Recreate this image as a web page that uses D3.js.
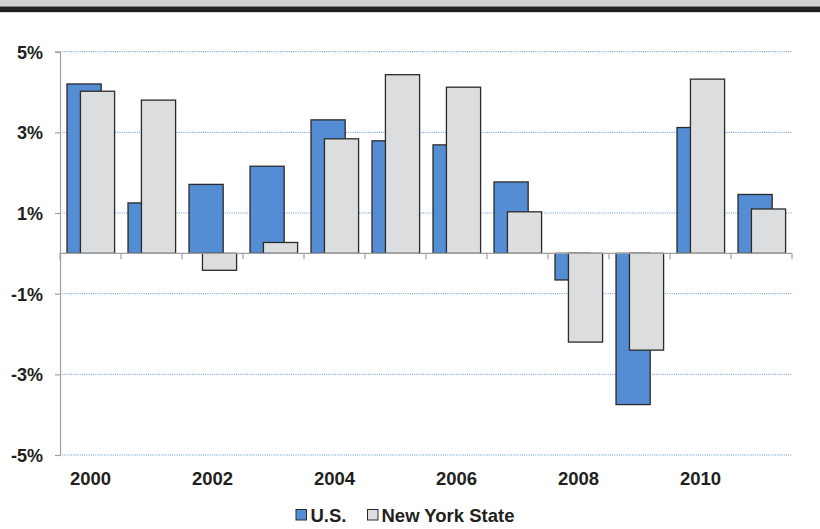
<!DOCTYPE html>
<html>
<head>
<meta charset="utf-8">
<script src="https://cdn.jsdelivr.net/npm/d3@7"></script>
<style>
  html, body { margin: 0; padding: 0; background: #fff; }
  svg { display: block; }
  text { font-family: "Liberation Sans", Arial, Helvetica, sans-serif; font-weight: bold; fill: #231f20; }
</style>
</head>
<body>
<svg id="chart" width="820" height="529"></svg>
<script>
// Annual growth, percent
const years = [2000, 2001, 2002, 2003, 2004, 2005, 2006, 2007, 2008, 2009, 2010, 2011];
const usValues = [4.2, 1.25, 1.71, 2.16, 3.31, 2.79, 2.69, 1.77, -0.66, -3.75, 3.12, 1.46];
const nyValues = [4.02, 3.8, -0.42, 0.27, 2.84, 4.43, 4.12, 1.03, -2.2, -2.4, 4.32, 1.1];
const yTicks = [5, 3, 1, -1, -3, -5];
const xLabelYears = [2000, 2002, 2004, 2006, 2008, 2010];
const seriesNames = ["U.S.", "New York State"];

const svg = d3.select("#chart");
const W = 820;

// header band
svg.append("rect").attr("x", 0).attr("y", 0).attr("width", W).attr("height", 6.5).attr("fill", "#d1d2d4");
svg.append("rect").attr("x", 0).attr("y", 6.5).attr("width", W).attr("height", 5.5).attr("fill", "#231f20");
svg.append("rect").attr("x", 0).attr("y", 12).attr("width", W).attr("height", 1).attr("fill", "#d6d6d6");

const plotLeft = 60, plotRight = 792, plotTop = 51.7, plotBottom = 455;

const x = d3.scaleBand().domain(years).range([plotLeft, plotRight]).paddingInner(0).paddingOuter(0);
const y = d3.scaleLinear().domain([-5, 5]).range([plotBottom, plotTop]);

// dotted gridlines
svg.append("g").selectAll("line").data(yTicks).join("line")
  .attr("x1", plotLeft).attr("x2", plotRight)
  .attr("y1", d => y(d)).attr("y2", d => y(d))
  .attr("stroke", "#4f86d0").attr("stroke-width", 1).attr("stroke-dasharray", "1,1.2")
  .attr("opacity", 0.85);

// y axis
const yAxis = d3.axisLeft(y).tickValues(yTicks).tickSize(5).tickFormat(d => d + "%");
const gy = svg.append("g").attr("transform", `translate(${plotLeft},0)`).call(yAxis);
gy.select(".domain").attr("stroke", "#a0a0a0").attr("stroke-width", 1.2);
gy.selectAll(".tick line").attr("stroke", "#a0a0a0").attr("stroke-width", 1.2);
gy.selectAll(".tick text")
  .attr("x", -17).attr("dy", "0.36em")
  .style("font-size", "18px").style("font-family", "\"Liberation Sans\", Arial, sans-serif")
  .style("font-weight", "bold").attr("fill", "#231f20");

// bars
const bw = x.bandwidth();
const barW = bw * 0.56;
const usOff = bw * 0.115, nyOff = bw * 0.335;

const bars = svg.append("g");
bars.selectAll("rect.us").data(years).join("rect")
  .attr("class", "us")
  .attr("x", (d) => x(d) + usOff)
  .attr("y", (d, i) => y(Math.max(0, usValues[i])))
  .attr("width", barW)
  .attr("height", (d, i) => Math.abs(y(usValues[i]) - y(0)))
  .attr("fill", "#548dd4").attr("stroke", "#2b2b2b").attr("stroke-width", 1.3);

bars.selectAll("rect.ny").data(years).join("rect")
  .attr("class", "ny")
  .attr("x", (d) => x(d) + nyOff)
  .attr("y", (d, i) => y(Math.max(0, nyValues[i])))
  .attr("width", barW)
  .attr("height", (d, i) => Math.abs(y(nyValues[i]) - y(0)))
  .attr("fill", "#dcdddf").attr("stroke", "#2b2b2b").attr("stroke-width", 1.3);

// x axis at zero with boundary ticks
const boundaries = years.map(d => x(d)).concat([plotRight]);
const gx = svg.append("g");
gx.append("line").attr("x1", plotLeft).attr("x2", plotRight).attr("y1", y(0)).attr("y2", y(0))
  .attr("stroke", "#a0a0a0").attr("stroke-width", 1.4);
gx.selectAll("line.tk").data(boundaries).join("line")
  .attr("class", "tk")
  .attr("x1", d => d).attr("x2", d => d)
  .attr("y1", y(0)).attr("y2", y(0) + 6)
  .attr("stroke", "#a0a0a0").attr("stroke-width", 1.2);

// year labels
svg.append("g").selectAll("text").data(xLabelYears).join("text")
  .attr("x", d => x(d) + bw / 2).attr("y", 485)
  .attr("text-anchor", "middle")
  .style("font-size", "18.5px")
  .text(d => d);

// legend
const legend = svg.append("g");
const legendItems = [
  { name: seriesNames[0], fill: "#548dd4", sx: 296, tx: 310.5 },
  { name: seriesNames[1], fill: "#dcdddf", sx: 367.5, tx: 381.5 }
];
legend.selectAll("rect").data(legendItems).join("rect")
  .attr("x", d => d.sx).attr("y", 509.5).attr("width", 10.5).attr("height", 10.5)
  .attr("fill", d => d.fill).attr("stroke", "#2b2b2b").attr("stroke-width", 1);
legend.selectAll("text").data(legendItems).join("text")
  .attr("x", d => d.tx).attr("y", 521.5)
  .style("font-size", "18.5px")
  .text(d => d.name);
</script>
</body>
</html>
